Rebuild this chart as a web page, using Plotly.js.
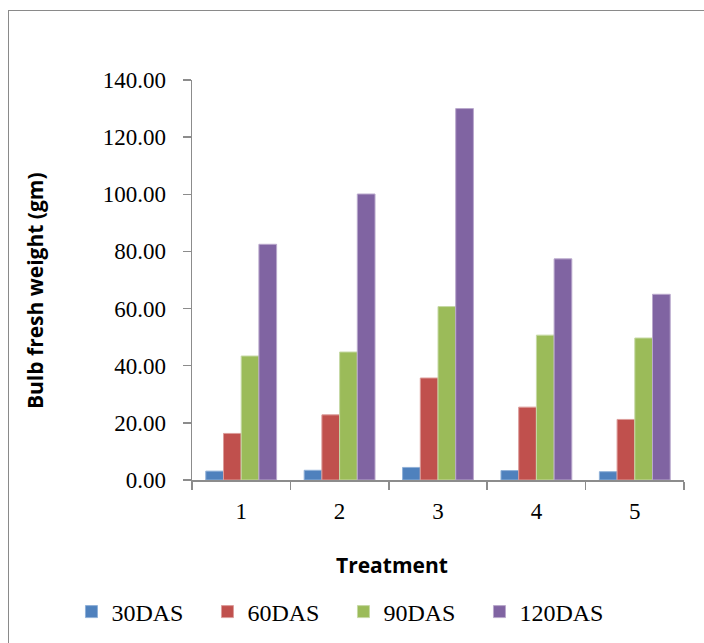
<!DOCTYPE html>
<html>
<head>
<meta charset="utf-8">
<script src="https://cdn.plot.ly/plotly-3.0.1.min.js"></script>
<style>
  html, body { margin: 0; padding: 0; background: #ffffff; }
  #wrap { position: relative; width: 704px; height: 643px; overflow: hidden; }
  #frame { position: absolute; left: 8px; top: 10px; width: 720px; height: 660px;
           border-left: 1.5px solid #8a8a8a; border-top: 1.5px solid #8a8a8a; }
  #chart { position: absolute; left: 0; top: 0; width: 704px; height: 643px; }
</style>
</head>
<body>
<div id="wrap">
  <div id="frame"></div>
  <div id="chart"></div>
</div>
<script>
const treatments = ["1", "2", "3", "4", "5"];
const seriesNames = ["30DAS", "60DAS", "90DAS", "120DAS"];
const das30 = [3.1, 3.4, 4.4, 3.3, 2.9];
const das60 = [16.3, 22.8, 35.7, 25.5, 21.2];
const das90 = [43.4, 44.8, 60.7, 50.7, 49.7];
const das120 = [82.5, 100.1, 130.0, 77.4, 65.0];
const yTickVals = [0, 20, 40, 60, 80, 100, 120, 140];

const colors = ["#4F81BD", "#C0504D", "#9BBB59", "#8064A2"];
const edges = ["#8fb0d8", "#dc9c9a", "#c6d9a5", "#b9a8cc"];
const seriesData = [das30, das60, das90, das120];

const traces = seriesData.map((vals, i) => ({
  type: "bar",
  name: seriesNames[i],
  x: treatments,
  y: vals,
  marker: { color: colors[i], line: { color: edges[i], width: 1 } },
  hoverinfo: "skip"
}));

const axisGrey = "#8c8c8c";
const layout = {
  width: 704,
  height: 643,
  margin: { l: 192, r: 20, t: 80, b: 163, autoexpand: false },
  paper_bgcolor: "rgba(0,0,0,0)",
  plot_bgcolor: "rgba(0,0,0,0)",
  barmode: "group",
  bargap: 0.28,
  bargroupgap: 0,
  showlegend: true,
  legend: {
    orientation: "h",
    x: -0.245, xanchor: "left",
    y: -0.33, yanchor: "middle",
    entrywidth: 91,
    font: { family: "Liberation Serif, Times New Roman, serif", size: 24, color: "#000" },
    itemclick: false
  },
  xaxis: {
    type: "category",
    showline: true, linecolor: axisGrey, linewidth: 1.5,
    ticks: "outside", tickson: "boundaries", ticklen: 8, tickwidth: 1.5, tickcolor: axisGrey,
    ticklabelstandoff: 10,
    tickfont: { family: "Liberation Serif, Times New Roman, serif", size: 23, color: "#000" },
    showgrid: false, zeroline: false, fixedrange: true
  },
  yaxis: {
    range: [0, 140],
    tickvals: yTickVals,
    tickformat: ".2f",
    showline: true, linecolor: axisGrey, linewidth: 1.5,
    ticks: "outside", ticklen: 8, tickwidth: 1.5, tickcolor: axisGrey,
    ticklabelstandoff: 12,
    tickfont: { family: "Liberation Serif, Times New Roman, serif", size: 23, color: "#000" },
    showgrid: false, zeroline: false, fixedrange: true
  },
  annotations: [
    {
      text: "<b>Treatment</b>", xref: "paper", yref: "paper",
      x: 0.4065, y: -0.2125, xanchor: "center", yanchor: "middle", showarrow: false,
      font: { family: "Open Sans, sans-serif", size: 21, color: "#000" }
    },
    {
      text: "<b>Bulb fresh weight (gm)</b>", xref: "paper", yref: "paper",
      x: -0.319, y: 0.4725, xanchor: "center", yanchor: "middle", showarrow: false,
      textangle: -90,
      font: { family: "Open Sans, sans-serif", size: 21, color: "#000" }
    }
  ]
};

Plotly.newPlot("chart", traces, layout, { displayModeBar: false, staticPlot: true });
</script>
</body>
</html>
